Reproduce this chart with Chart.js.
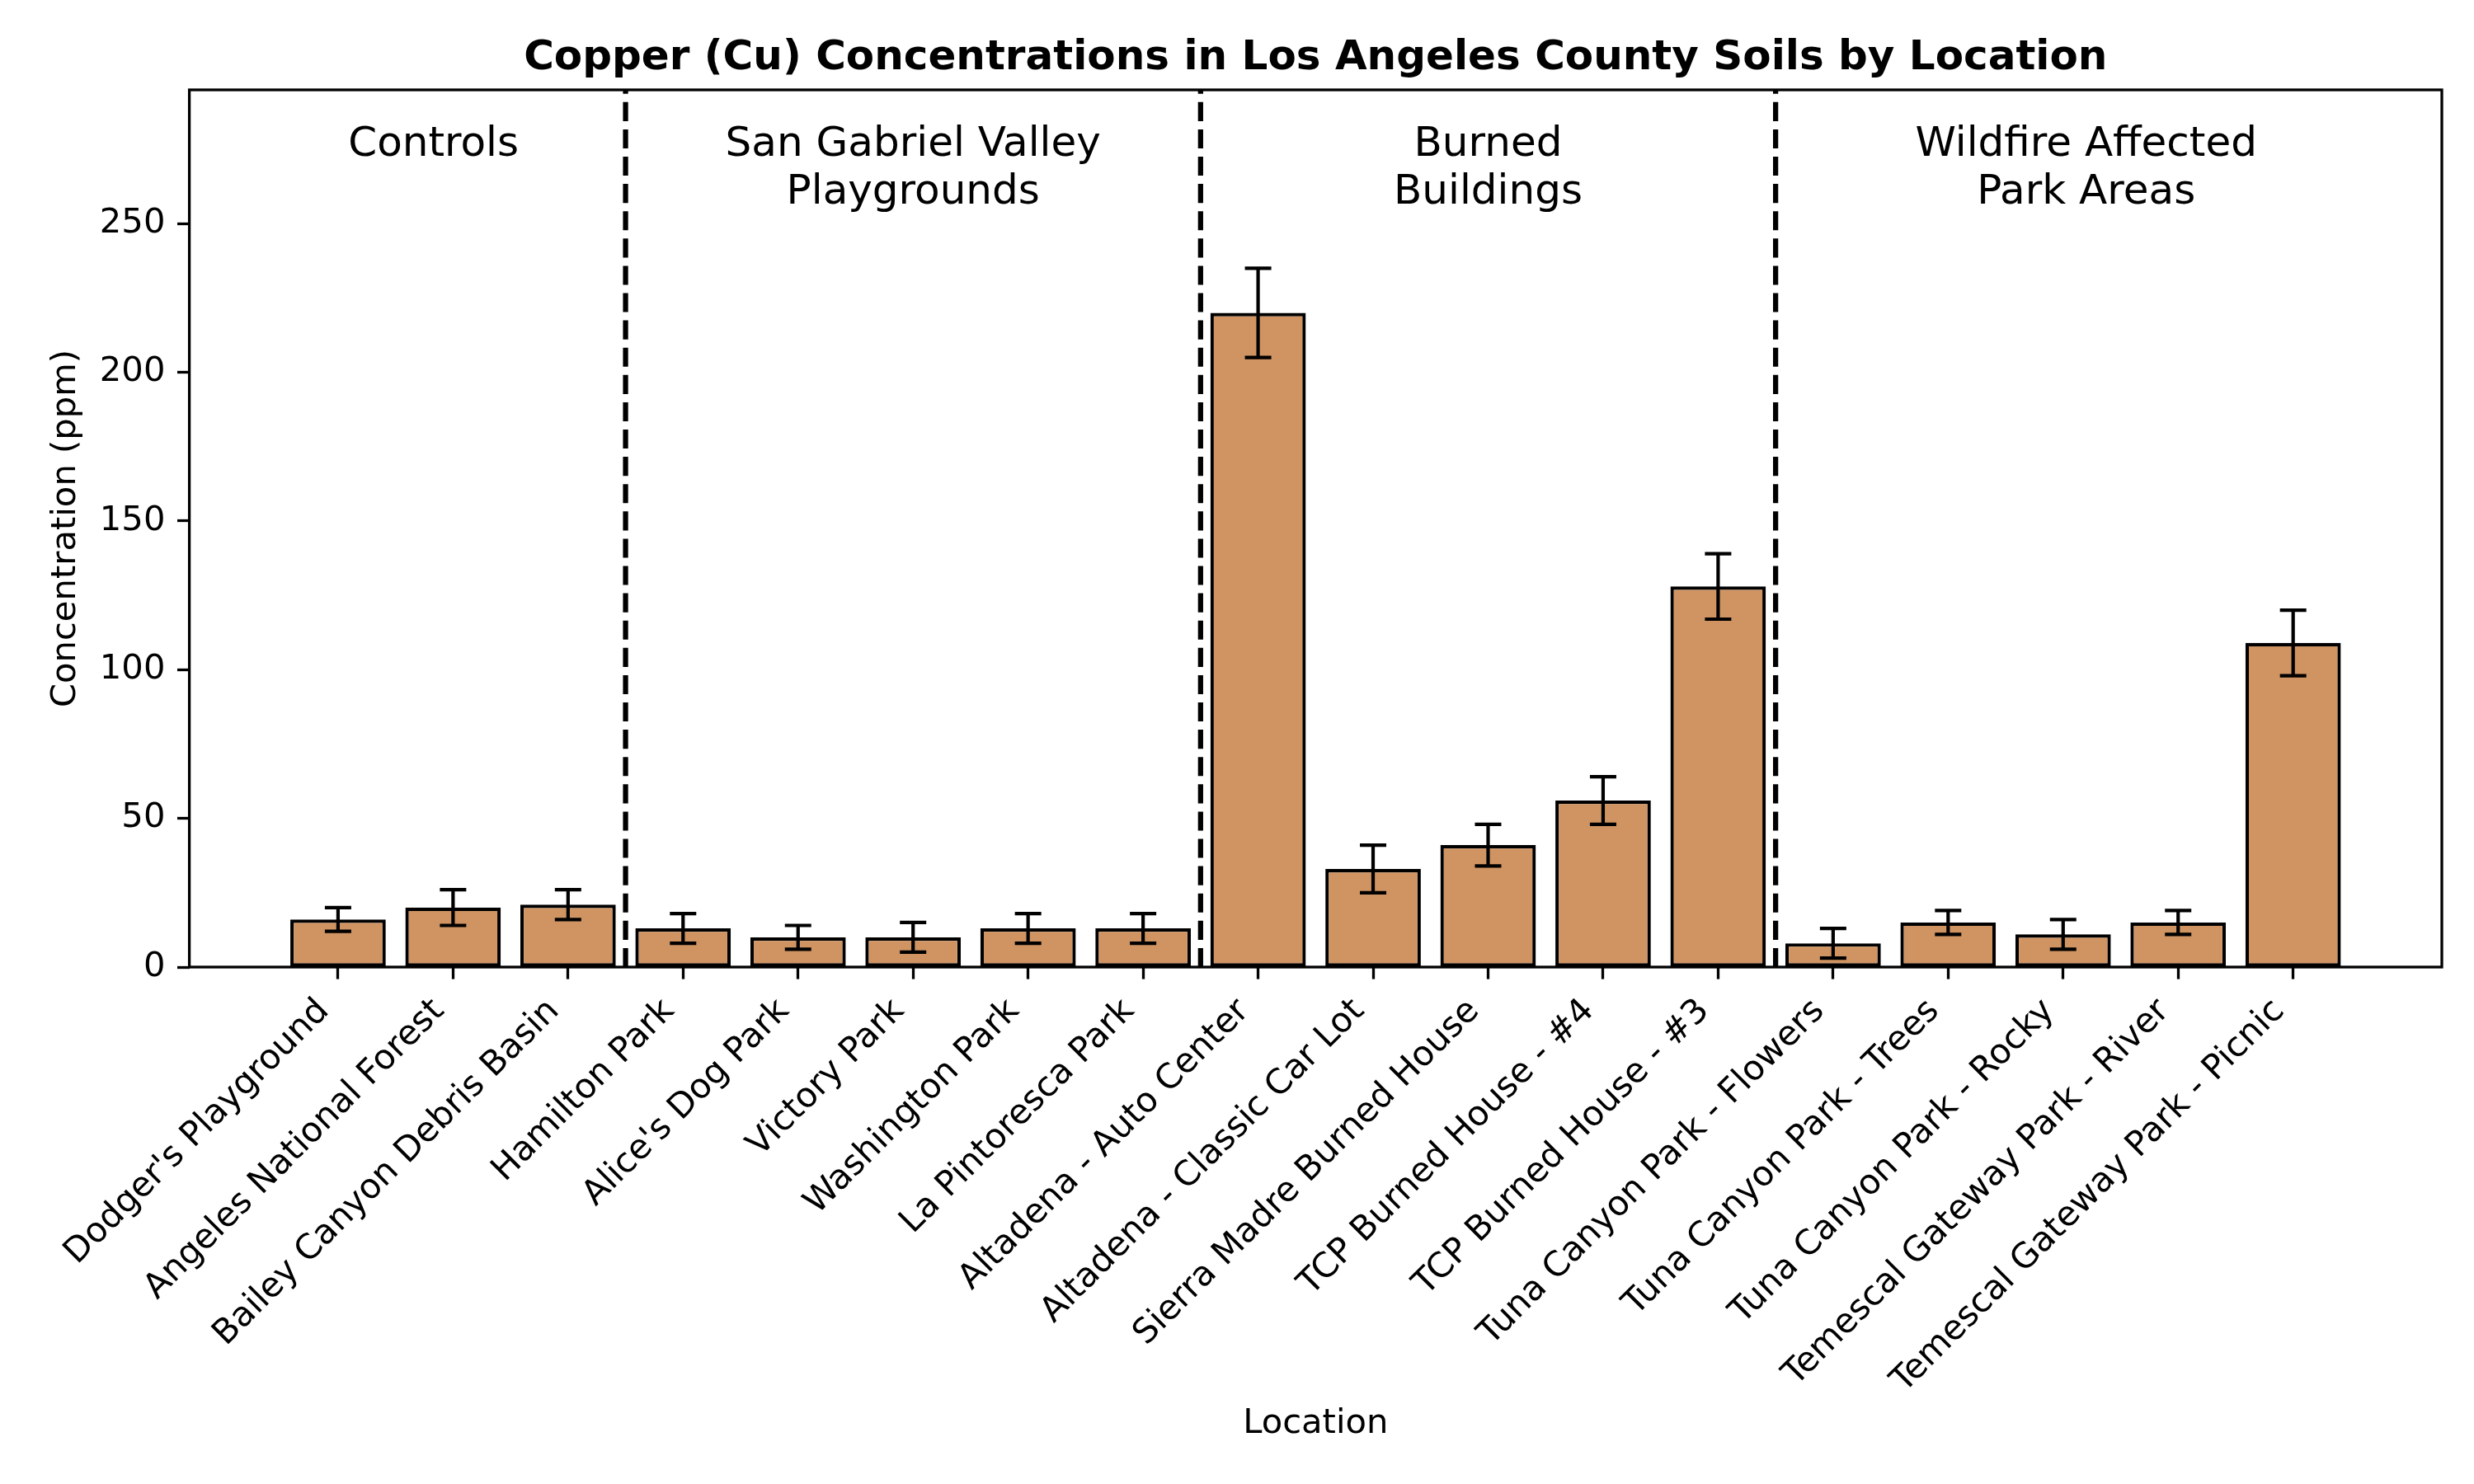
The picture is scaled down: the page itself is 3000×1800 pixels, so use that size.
<!DOCTYPE html>
<html><head><meta charset="utf-8">
<script src="https://cdn.jsdelivr.net/npm/chart.js@4.4.0/dist/chart.umd.min.js"></script>
<style>html,body{margin:0;padding:0;background:#fff}canvas{display:block}</style>
</head><body>
<canvas id="c" width="3000" height="1800" style="width:3000px;height:1800px"></canvas>
<script>
const categories = [
  "Dodger's Playground", "Angeles National Forest", "Bailey Canyon Debris Basin",
  "Hamilton Park", "Alice's Dog Park", "Victory Park", "Washington Park", "La Pintoresca Park",
  "Altadena - Auto Center", "Altadena - Classic Car Lot", "Sierra Madre Burned House",
  "TCP Burned House - #4", "TCP Burned House - #3",
  "Tuna Canyon Park - Flowers", "Tuna Canyon Park - Trees", "Tuna Canyon Park - Rocky",
  "Temescal Gateway Park - River", "Temescal Gateway Park - Picnic"
];
const concentrations = [16, 20, 21, 13, 10, 10, 13, 13, 220, 33, 41, 56, 128, 8, 15, 11, 15, 109];
const errors = [4, 6, 5, 5, 4, 5, 5, 5, 15, 8, 7, 8, 11, 5, 4, 5, 4, 11];
const groupNames = [["Controls"], ["San Gabriel Valley", "Playgrounds"], ["Burned", "Buildings"], ["Wildfire Affected", "Park Areas"]];
const groupBoundaries = [2.5, 7.5, 12.5];
const groupLabelX = [0.83, 5, 10, 15.2];
const yTicks = [0, 50, 100, 150, 200, 250];

const FONT = 'DejaVu Sans';
const decor = {
  id: 'decor',
  afterDatasetsDraw(chart) {
    const {ctx, chartArea: a, scales: {x, y}} = chart;
    ctx.save();
    ctx.strokeStyle = '#000';
    // group separators
    ctx.lineWidth = 6.25;
    ctx.setLineDash([23.1, 10]);
    groupBoundaries.forEach(b => {
      const px = x.getPixelForValue(b);
      ctx.beginPath(); ctx.moveTo(px, a.bottom); ctx.lineTo(px, a.top); ctx.stroke();
    });
    ctx.setLineDash([]);
    // error bars
    ctx.lineWidth = 4.2;
    concentrations.forEach((v, i) => {
      const px = x.getPixelForValue(i);
      const t = y.getPixelForValue(v + errors[i]);
      const b = y.getPixelForValue(v - errors[i]);
      ctx.beginPath();
      ctx.moveTo(px, t); ctx.lineTo(px, b);
      ctx.moveTo(px - 16, t); ctx.lineTo(px + 16, t);
      ctx.moveTo(px - 16, b); ctx.lineTo(px + 16, b);
      ctx.stroke();
    });
    // spines
    ctx.lineWidth = 3.3;
    ctx.strokeRect(a.left, a.top, a.right - a.left, a.bottom - a.top);
    // group labels
    ctx.fillStyle = '#000';
    ctx.font = '50px "' + FONT + '"';
    ctx.textAlign = 'center';
    ctx.textBaseline = 'alphabetic';
    groupNames.forEach((lines, g) => {
      const px = x.getPixelForValue(groupLabelX[g]);
      const py = y.getPixelForValue(272.8);
      lines.forEach((t, k) => ctx.fillText(t, px, py + k * 58));
    });
    // title
    ctx.font = 'bold 50px "' + FONT + '"';
    ctx.fillText('Copper (Cu) Concentrations in Los Angeles County Soils by Location', (a.left + a.right) / 2, a.top - 25);
    ctx.restore();
  }
};

const tickFont = {family: FONT, size: 41.7};
const gridOpts = {offset: false, drawOnChartArea: false, drawTicks: true, tickLength: 14.6, tickWidth: 3.3, tickColor: '#000'};

new Chart(document.getElementById('c'), {
  type: 'bar',
  data: {
    datasets: [{
      data: concentrations.map((v, i) => ({x: i, y: v})),
      backgroundColor: 'rgb(208,148,98)',
      borderColor: '#000',
      borderWidth: 4.2,
      borderSkipped: false,
      barPercentage: 0.83,
      categoryPercentage: 1.0
    }]
  },
  options: {
    responsive: false,
    animation: false,
    devicePixelRatio: 1,
    layout: {padding: {top: 109, right: 39, left: 0, bottom: 0}},
    plugins: {legend: {display: false}, tooltip: {enabled: false}, title: {display: false}},
    scales: {
      x: {
        type: 'linear', min: -1.293, max: 18.293, offset: false,
        afterBuildTicks: s => { s.ticks = categories.map((_, i) => ({value: i})); },
        afterFit: s => { s.height = 627; },
        ticks: {
          autoSkip: false, minRotation: 45, maxRotation: 45, padding: 14.6, labelOffset: -17,
          color: '#000', font: tickFont, callback: v => categories[v]
        },
        grid: gridOpts,
        border: {display: false},
        title: {display: true, text: 'Location', color: '#000', font: tickFont, padding: {top: 0, bottom: 48}}
      },
      y: {
        min: 0, max: 295,
        afterBuildTicks: s => { s.ticks = yTicks.map(v => ({value: v})); },
        afterFit: s => { s.width = 229.6; },
        ticks: {padding: 14.6, color: '#000', font: tickFont},
        grid: gridOpts,
        border: {display: false},
        title: {display: true, text: 'Concentration (ppm)', color: '#000', font: tickFont, padding: {top: 55, bottom: 0}}
      }
    }
  },
  plugins: [decor]
});
</script>
</body></html>
